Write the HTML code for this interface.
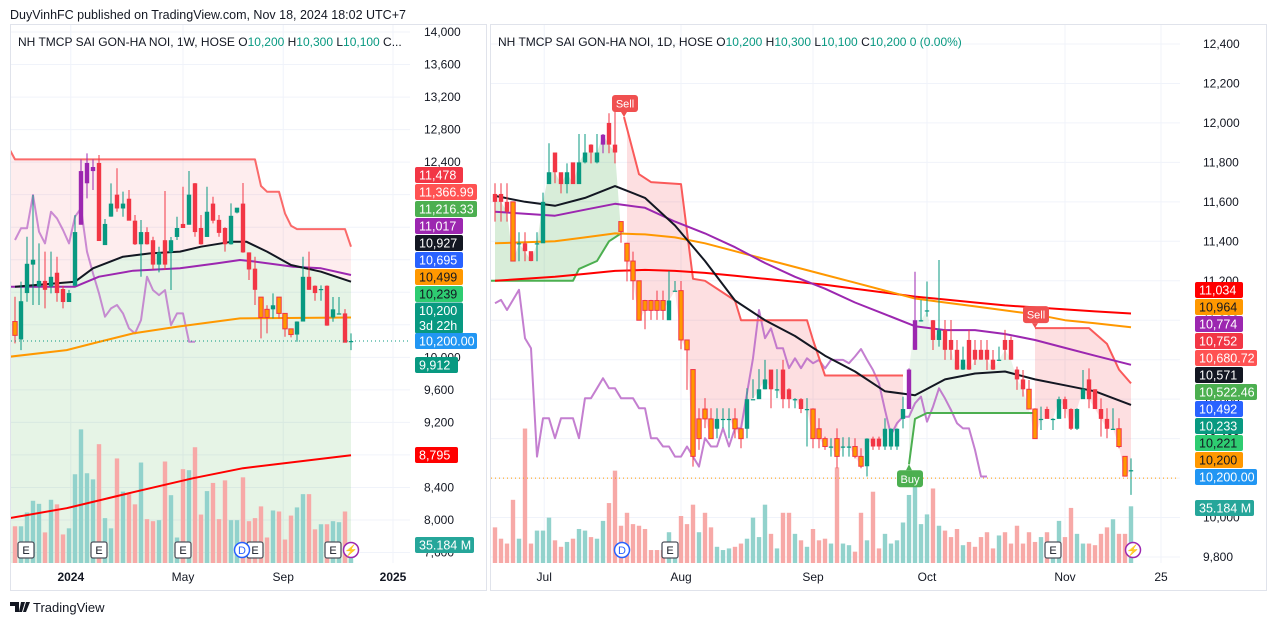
<!DOCTYPE html>
<html><head><meta charset="utf-8">
<style>
html,body{margin:0;padding:0;background:#fff;}
body{width:1276px;height:626px;overflow:hidden;font-family:"Liberation Sans",sans-serif;}
svg text{font-family:"Liberation Sans",sans-serif;}
</style></head>
<body>
<svg id="root" xmlns="http://www.w3.org/2000/svg" width="1276" height="626" viewBox="0 0 1276 626">
<defs>
<clipPath id="clipL"><rect x="11" y="25" width="398" height="539"/></clipPath>
<clipPath id="clipR"><rect x="491" y="25" width="688" height="539"/></clipPath>
</defs>
<text x="10" y="19" font-size="12.5" fill="#131722">DuyVinhFC published on TradingView.com, Nov 18, 2024 18:02 UTC+7</text>
<rect x="10.5" y="24.5" width="476" height="566" fill="#fff" stroke="#e0e3eb"/>
<rect x="490.5" y="24.5" width="776" height="566" fill="#fff" stroke="#e0e3eb"/>
<g id="gridL"></g>
<g id="gridR"></g>
<g id="plotL" clip-path="url(#clipL)"></g>
<g id="plotR" clip-path="url(#clipR)"></g>
<g id="axisL"></g>
<g id="axisR"></g>
<g id="labels"></g>
<text x="18" y="46" font-size="12" fill="#131722">NH TMCP SAI GON-HA NOI, 1W, HOSE  O<tspan fill="#089981">10,200</tspan>  H<tspan fill="#089981">10,300</tspan>  L<tspan fill="#089981">10,100</tspan>  C...</text>
<text x="498" y="46" font-size="12" fill="#131722">NH TMCP SAI GON-HA NOI, 1D, HOSE  O<tspan fill="#089981">10,200</tspan>  H<tspan fill="#089981">10,300</tspan>  L<tspan fill="#089981">10,100</tspan>  C<tspan fill="#089981">10,200</tspan>  <tspan fill="#089981">0 (0.00%)</tspan></text>
<g>
<path d="M10 602h9v10h-4v-6h-5z M21 602h4l-3 10h-3z M26 602h4l-4 10h-3z" fill="#131722"/>
<text x="33" y="612" font-size="13" fill="#131722">TradingView</text>
</g>
</svg>
<script>
// ---------------- LEFT (weekly) DATA ----------------
const lOpen=[10440,10220,10790,11140,10870,10940,10870,11040,10840,10680,10880,11630,12140,12290,12390,11380,11730,12000,11830,11950,11680,11390,11540,11440,11140,11440,11290,11480,11640,11630,12140,11590,11480,11890,11690,11590,11390,11780,11890,11290,11090,10740,10590,10590,10740,10540,10350,10280,10440,10990,10880,10840,10880,10490,10540,10540,10200];
const lClose=[10270,10690,11150,11200,10940,10830,10990,10790,10680,10790,11540,12290,12390,12340,11430,11640,11890,11830,11890,11680,11390,11540,11390,11140,11290,11140,11440,11590,11590,12000,11540,11390,11790,11680,11530,11390,11740,11840,11290,11080,10830,10490,10490,10640,10540,10350,10280,10440,10990,10830,10790,10840,10390,10590,10540,10180,10200];
const lHigh=[10745,10930,11483,11996,11401,11299,11299,11237,10880,10830,11750,12434,12508,12434,12488,11700,12139,12324,12037,12057,11750,11688,11600,11483,11360,12045,11480,11729,12098,12291,12143,11750,12098,11975,11750,11600,11893,11836,12143,11290,11237,10741,10640,10786,10741,10540,10347,10442,11237,11299,10884,10884,10884,10741,10741,10593,10294];
const lLow=[10171,10089,10684,10643,10643,10602,10786,10684,10602,10684,10876,11631,11955,12057,11434,11385,11729,11790,11729,11684,11381,10991,11385,11081,11044,11073,10827,11442,11590,11631,11483,11385,11483,11647,11483,11299,11385,11770,11286,10950,10643,10233,10294,10479,10479,10253,10245,10192,10442,10831,10696,10696,10388,10438,10540,10183,10089];
const lType=["o","g","g","g","g","r","g","r","r","g","g","p","p","p","r","g","g","r","g","r","r","g","r","r","g","r","g","g","r","g","r","r","g","r","r","r","g","g","r","r","r","o","o","g","o","o","o","g","g","r","r","g","r","g","g","r","g"];
const lVolume=[72,72,99,122,116,60,124,115,56,68,174,262,176,164,233,88,68,205,140,135,115,197,86,82,84,199,133,50,184,182,227,95,141,157,86,162,84,84,168,82,88,111,50,103,101,46,93,109,135,135,66,76,76,82,80,101,35];
const lBlackIdx=[0,10,13,18,22.5,27.5,31,36,38.6,42,46,51,56];
const lBlackVal=[10868,10930,11094,11237,11278,11300,11360,11420,11420,11300,11135,11053,10930];
const lPurpleIdx=[-1,10,14,19.7,27.5,33.6,37.5,39.7,46.4,51,56];
const lPurpleVal=[10868,10868,10991,11065,11094,11155,11196,11180,11114,11094,11012];
const lOrangeIdx=[-1,8.6,13,19.7,27,37.5,56];
const lOrangeVal=[10007,10089,10171,10294,10376,10479,10490];
const lRedIdx=[-1,8.6,19.7,29.7,38,56];
const lRedVal=[8022,8145,8342,8514,8637,8795];
const lStopIdx=[-1,0,40,41,42,44,45,46,47,55,56];
const lStopVal=[12570,12434,12434,12106,12037,12037,11770,11618,11577,11577,11360];
const lOsc=[11442,11586,11586,11996,11545,11401,11790,11708,11565,11401,11729,11832,11299,11032,10786,10499,10602,10643,10540,10356,10294,10458,10991,10827,10765,10827,10397,10540,10540,10192,10192];
const lTicks=[14000,13600,13200,12800,12400,12000,11600,11200,10800,10400,10000,9600,9200,8800,8400,8000,7600];
// ---------------- RIGHT (daily) DATA ----------------
const rOpen=[11640,11640,11600,11600,11390,11390,11350,11390,11390,11690,11850,11750,11690,11800,11690,11800,11890,11800,11890,12000,11890,11500,11390,11300,11200,11100,11100,11100,11100,11000,11150,11150,10900,10750,10400,10550,10500,10450,10500,10500,10500,10450,10450,10600,10600,10650,10750,10650,10750,10650,10600,10600,10550,10550,10450,10400,10360,10400,10360,10360,10360,10310,10260,10400,10400,10360,10360,10360,10500,10550,10850,11000,11050,11000,10900,10950,10900,10850,10750,10900,10850,10850,10850,10800,10800,10900,10900,10750,10700,10650,10550,10500,10550,10500,10500,10600,10550,10450,10600,10700,10650,10550,10500,10450,10450,10310,10240];
const rClose=[11600,11600,11550,11300,11390,11350,11300,11390,11600,11750,11750,11690,11750,11690,11800,11850,11850,11850,11940,11890,11850,11450,11300,11200,11000,11050,11050,11050,11050,11100,11150,10900,10850,10310,10500,10500,10400,10500,10500,10500,10450,10400,10600,10600,10650,10700,10650,10650,10600,10600,10600,10550,10550,10400,10400,10360,10360,10310,10360,10360,10310,10260,10400,10360,10360,10450,10450,10450,10550,10750,11000,11000,11050,10900,10950,10850,10850,10750,10800,10750,10800,10800,10800,10750,10800,10850,10800,10700,10650,10550,10400,10500,10500,10500,10600,10550,10450,10550,10650,10600,10550,10500,10450,10450,10360,10210,10240];
const rHigh=[11694,11694,11694,11600,11446,11446,11348,11446,11647,11897,11846,11745,11795,11795,11944,11944,11892,11944,11944,12049,12099,11496,11393,11348,11199,11103,11103,11150,11150,11250,11199,11199,10900,10752,10554,10605,10554,10554,10554,10554,10554,10453,10655,10701,10752,10799,10701,10752,10799,10655,10605,10605,10605,10554,10503,10410,10402,10452,10407,10407,10402,10351,10402,10410,10410,10503,10452,10452,10613,10756,11246,11103,11196,11001,11305,11001,11001,10900,10866,10951,10900,10900,10900,10849,10866,10951,10917,10765,10748,10697,10554,10562,10562,10503,10613,10613,10554,10554,10748,10756,10650,10604,10554,10554,10503,10306,10300];
const rLow=[11500,11500,11500,11299,11299,11299,11299,11299,11393,11694,11694,11643,11643,11694,11694,11795,11795,11795,11846,11846,11795,11393,11197,11103,11002,10954,11002,11002,11002,11002,11150,10853,10647,10258,10343,10453,10402,10402,10453,10402,10402,10351,10402,10605,10605,10650,10554,10605,10554,10554,10554,10529,10360,10351,10351,10343,10309,10250,10309,10309,10300,10250,10208,10343,10343,10343,10343,10343,10452,10554,10849,10993,11018,10849,10866,10799,10799,10748,10748,10748,10773,10799,10748,10748,10799,10799,10799,10647,10613,10554,10402,10444,10503,10444,10503,10503,10444,10444,10604,10554,10554,10410,10402,10444,10351,10208,10115];
const rType=["r","r","r","o","g","r","r","g","g","g","r","r","g","r","g","g","r","g","p","r","r","o","o","o","o","o","o","o","o","g","g","o","o","o","o","o","o","g","g","g","o","o","g","g","g","g","r","g","r","r","g","r","g","o","o","o","g","o","g","g","o","o","g","r","r","g","g","g","g","p","p","g","g","r","g","r","r","r","g","r","r","r","r","r","g","r","r","r","r","o","o","g","r","g","g","r","r","g","g","r","r","r","r","g","o","o","g"];
const rVolume=[22,15,12,39,15,83,12,20,20,28,14,10,13,15,21,20,16,15,26,37,57,23,31,24,23,21,8,8,8,19,5,29,24,36,19,31,22,10,8,9,10,12,15,28,16,36,18,9,31,31,18,14,10,21,14,15,12,59,12,11,7,31,14,44,9,18,12,14,25,42,49,24,30,46,23,20,16,21,11,13,10,16,19,9,17,19,12,23,12,19,13,16,19,7,26,16,34,18,12,12,11,18,22,27,18,18,35];
const rMaIdx=[0,5,10,15,20,25,30,35,40,45,50,55,60,65,70,75,80,85,90,95,100,106];
const rBlack=[11630,11600,11580,11620,11680,11620,11480,11300,11100,11000,10920,10820,10740,10640,10620,10700,10730,10740,10700,10670,10640,10571];
const rPurple=[11550,11540,11530,11560,11590,11570,11500,11440,11370,11290,11220,11160,11090,11030,10970,10950,10950,10930,10900,10860,10820,10774];
const rOrange=[11390,11395,11400,11420,11440,11435,11420,11390,11350,11310,11270,11230,11190,11150,11110,11090,11070,11050,11030,11000,10985,10964];
const rRed=[11200,11210,11220,11235,11250,11255,11250,11240,11225,11210,11195,11180,11160,11140,11120,11105,11090,11075,11065,11055,11045,11034];
const rRedStop1Idx=[21.5,24,26,31,33,35,40,41,52,53,55,68];
const rRedStop1Val=[12030,11740,11700,11690,11210,11200,11100,11000,11000,10900,10720,10720];
const rGreenStop1Idx=[-1,13,14,17,19,21,21.5];
const rGreenStop1Val=[11200,11200,11260,11300,11400,11440,11440];
const rGreenStop2Idx=[69,70,72,90];
const rGreenStop2Val=[10270,10500,10530,10530];
const rRedStop2Idx=[90,99,102,104,106];
const rRedStop2Val=[10960,10960,10880,10750,10680];
const rOsc=[11086,11103,11052,11103,11154,10909,10858,10309,10503,10503,10402,10503,10503,10503,10402,10605,10605,10655,10706,10655,10655,10605,10605,10605,10554,10554,10402,10402,10360,10360,10309,10309,10360,10309,10258,10402,10360,10360,10453,10360,10453,10453,10630,10807,11052,10909,10959,10858,10858,10757,10807,10757,10807,10782,10799,10756,10799,10799,10799,10782,10816,10854,10799,10748,10680,10545,10419,10478,10511,10511,10579,10613,10486,10562,10655,10604,10545,10478,10452,10452,10343,10208,10208];
const rTicks=[12400,12200,12000,11800,11600,11400,11200,11000,10800,10600,10400,10200,10000,9800];

// ---------------- SCALES ----------------
const xL=j=>15+6*j, yL=v=>32+(14000-v)*0.08133;
const xR=i=>495+6*i, yR=v=>44+(12400-v)*0.19731;
const vL=m=>563-m*0.51, vR=m=>563-m*1.62;
const NS="http://www.w3.org/2000/svg";
function mk(tag,attrs,parent){const e=document.createElementNS(NS,tag);for(const k in attrs)e.setAttribute(k,attrs[k]);parent.appendChild(e);return e;}
function interp(idx,val,t){if(t<=idx[0])return val[0];for(let k=1;k<idx.length;k++){if(t<=idx[k]){const f=(t-idx[k-1])/(idx[k]-idx[k-1]);return val[k-1]+f*(val[k]-val[k-1]);}}return val[val.length-1];}
function pathKnots(idx,val,xf,yf){return idx.map((t,k)=>(k?"L":"M")+xf(t).toFixed(1)+" "+yf(val[k]).toFixed(1)).join(" ");}
function pathSeries(arr,xf,yf,off){return arr.map((v,k)=>(k?"L":"M")+xf(k+(off||0)).toFixed(1)+" "+yf(v).toFixed(1)).join(" ");}
const COL={g:"#089981",r:"#f23645",o:"#ff9800",p:"#9c27b0"};

// grids & axes
const gL=document.getElementById("gridL"), gR=document.getElementById("gridR");
const aL=document.getElementById("axisL"), aR=document.getElementById("axisR");
lTicks.forEach(v=>{const y=yL(v);if(y<26||y>563)return;
 const ln=mk("line",{x1:11,x2:410,y1:y,y2:y,stroke:"#f0f3fa"},gL);
 
 
 const t=mk("text",{x:424,y:y+4,"font-size":12,fill:"#131722"},aL);t.textContent=v.toLocaleString("en-US");
 
 });
rTicks.forEach(v=>{const y=yR(v);
 const ln=mk("line",{x1:491,x2:1180,y1:y,y2:y,stroke:"#f0f3fa"},gR);
 
 
 const t=mk("text",{x:1203,y:y+4,"font-size":12,fill:"#131722"},aR);t.textContent=v.toLocaleString("en-US");
 
 });
const lDates=[["2024",9.3,true],["May",28,false],["Sep",44.7,false],["2025",63,true]];
const rDates=[["Jul",8.2,false],["Aug",31,false],["Sep",53,false],["Oct",72,false],["Nov",95,false],["25",111,false]];
lDates.forEach(d=>{const x=xL(d[1]);
 const ln=mk("line",{x1:x,x2:x,y1:25,y2:563,stroke:"#f0f3fa"},gL);
 
 
 const t=mk("text",{x:x,y:581,"font-size":12,fill:"#131722","text-anchor":"middle","font-weight":d[2]?"bold":"normal"},aL);t.textContent=d[0];
 
 });
rDates.forEach(d=>{const x=xR(d[1]);
 const ln=mk("line",{x1:x,x2:x,y1:25,y2:563,stroke:"#f0f3fa"},gR);
 
 
 const t=mk("text",{x:x,y:581,"font-size":12,fill:"#131722","text-anchor":"middle"},aR);t.textContent=d[0];
 
 });

function drawVolume(vol,O,C,xf,vf,g,w){vol.forEach((m,k)=>{if(k>=O.length)return;const up=C[k]>=O[k];
 const r=mk("rect",{x:xf(k)-w/2,y:vf(m),width:w,height:563-vf(m),fill:up?"#92d2cc":"#f7a9a7"},g);
 
 });}
function drawCandles(O,H,L,C,T,xf,yf,g,w){O.forEach((o,k)=>{const x=xf(k),c=C[k],t=T[k];
 const wc=t==="o"?"#f23645":COL[t];
 const wk=mk("line",{x1:x,x2:x,y1:yf(H[k]),y2:yf(L[k]),stroke:wc,"stroke-width":1},g);
 
 
 const top=yf(Math.max(o,c)),h=Math.max(1.2,Math.abs(yf(o)-yf(c)));
 const b=mk("rect",{x:x-w/2,y:top,width:w,height:h,fill:COL[t],stroke:t==="o"?"#f23645":"none","stroke-width":t==="o"?1:0},g);
 
 });}
function line(d,col,w,g,name,op){const p=mk("path",{d:d,fill:"none",stroke:col,"stroke-width":w,"stroke-linejoin":"round",opacity:op||1},g);
 
 return p;}
function fillBetween(idx,val,from,to,series,xf,yf,col,g,name){let d="";const pts=[];
 for(let t=from;t<=to+1e-6;t+=0.5)pts.push([xf(t),yf(interp(idx,val,t))]);
 const back=[];for(let k=Math.floor(to);k>=Math.ceil(from);k--)back.push([xf(k),yf(series(k))]);
 d="M"+pts.concat(back).map(p=>p[0].toFixed(1)+" "+p[1].toFixed(1)).join(" L")+"Z";
 const p=mk("path",{d:d,fill:col,stroke:"none"},g);
 
 }

// ---------------- LEFT PLOT ----------------
const pL=document.getElementById("plotL");
fillBetween(lStopIdx,lStopVal,-1,56,k=>interp(lBlackIdx,lBlackVal,k),xL,yL,"rgba(242,54,69,0.09)",pL,"left-red-fill");
(function(){const pts=[];for(let t=-1;t<=56;t+=0.5)pts.push(xL(t).toFixed(1)+" "+yL(interp(lBlackIdx,lBlackVal,t)).toFixed(1));
 const p=mk("path",{d:"M"+pts.join(" L")+" L"+xL(56)+" 563 L"+xL(-1)+" 563Z",fill:"rgba(76,175,80,0.14)"},pL);
 
 })();
drawVolume(lVolume,lOpen,lClose,xL,vL,pL,4.4);
line(pathKnots(lStopIdx,lStopVal,xL,yL),"#fa5a5a",2,pL,"left-red-stop-line",0.9);
line(pathSeries(lOsc,xL,yL),"#ba68c8",2,pL,"left-oscillator-line",0.75);
line(pathKnots(lRedIdx,lRedVal,xL,yL),"#ff0000",2,pL,"left-ma-red");
line(pathKnots(lOrangeIdx,lOrangeVal,xL,yL),"#ff9800",2,pL,"left-ma-orange");
line(pathKnots(lPurpleIdx,lPurpleVal,xL,yL),"#9c27b0",2,pL,"left-ma-purple");
line(pathKnots(lBlackIdx,lBlackVal,xL,yL),"#131722",2,pL,"left-ma-black");
drawCandles(lOpen,lHigh,lLow,lClose,lType,xL,yL,pL,4.4);
(function(){const l=mk("line",{x1:11,x2:409,y1:yL(10200),y2:yL(10200),stroke:"#089981","stroke-dasharray":"1 3"},pL);
 
 })();

// ---------------- RIGHT PLOT ----------------
const pR=document.getElementById("plotR");
const rc=k=>rClose[k];
fillBetween(rGreenStop1Idx,rGreenStop1Val,0,21,rc,xR,yR,"rgba(76,175,80,0.22)",pR,"right-green-fill-1");
fillBetween(rRedStop1Idx,rRedStop1Val,22,68,rc,xR,yR,"rgba(242,54,69,0.16)",pR,"right-red-fill-1");
fillBetween(rGreenStop2Idx,rGreenStop2Val,69,90,rc,xR,yR,"rgba(76,175,80,0.12)",pR,"right-green-fill-2");
fillBetween(rRedStop2Idx,rRedStop2Val,90,106,rc,xR,yR,"rgba(242,54,69,0.16)",pR,"right-red-fill-2");
drawVolume(rVolume,rOpen,rClose,xR,vR,pR,4.4);
line(pathSeries(rOsc,xR,yR),"#ba68c8",2,pR,"right-oscillator-line",0.85);
line(pathKnots(rGreenStop1Idx,rGreenStop1Val,xR,yR),"#4caf50",2,pR,"right-green-stop-1");
line(pathKnots(rGreenStop2Idx,rGreenStop2Val,xR,yR),"#4caf50",2,pR,"right-green-stop-2");
line(pathKnots(rRedStop1Idx,rRedStop1Val,xR,yR),"#fa5a5a",2,pR,"right-red-stop-1");
line(pathKnots(rRedStop2Idx,rRedStop2Val,xR,yR),"#fa5a5a",2,pR,"right-red-stop-2");
line(pathKnots(rMaIdx,rRed,xR,yR),"#ff0000",2,pR,"right-ma-red");
line(pathKnots(rMaIdx,rOrange,xR,yR),"#ff9800",2,pR,"right-ma-orange");
line(pathKnots(rMaIdx,rPurple,xR,yR),"#9c27b0",2,pR,"right-ma-purple");
line(pathKnots(rMaIdx,rBlack,xR,yR),"#131722",2,pR,"right-ma-black");
drawCandles(rOpen,rHigh,rLow,rClose,rType,xR,yR,pR,4.4);
(function(){const l=mk("line",{x1:491,x2:1180,y1:yR(10200),y2:yR(10200),stroke:"#ff9800","stroke-dasharray":"1 3"},pR);
 
 })();
// signal markers
function signal(txt,x,y,col,name,below){const g=mk("g",{},pR);
 
 
 const by=below?y+6:y-22;
 mk("rect",{x:x-12,y:by,width:26,height:17,rx:3,fill:col},g);
 mk("path",{d:below?`M${x-3} ${by} L${x} ${y} L${x+3} ${by}Z`:`M${x-3} ${by+17} L${x} ${y} L${x+3} ${by+17}Z`,fill:col},g);
 const t=mk("text",{x:x+1,y:by+12.5,"font-size":11,fill:"#fff","text-anchor":"middle"},g);t.textContent=txt;}
signal("Sell",xR(21.5),yR(12030),"#f05050","sell-marker-1",false);
signal("Sell",xR(90),yR(10960),"#f05050","sell-marker-2",false);
signal("Buy",xR(69),yR(10270),"#4caf50","buy-marker",true);

// event icons
function icon(x,y,t,col,name){const g=mk("g",{},document.getElementById("root"));
 
 
 if(t==="D"||t==="⚡"){mk("circle",{cx:x,cy:y,r:7.5,fill:"#fff",stroke:col,"stroke-width":1.5},g);}
 else mk("rect",{x:x-8,y:y-8,width:16,height:16,rx:2,fill:"#fff",stroke:"#50535e","stroke-width":1.3},g);
 const tx=mk("text",{x:x,y:y+4,"font-size":11,fill:t==="E"?"#131722":col,"text-anchor":"middle"},g);tx.textContent=t;}
[[26,"E"],[99,"E"],[183,"E"],[255,"E"],[333,"E"],[670,"E"],[1053,"E"]].forEach(a=>icon(a[0],550,a[1],"#50535e","earnings-icon"));
icon(242,550,"D","#2962ff","dividend-icon");icon(622,550,"D","#2962ff","dividend-icon");
icon(351,550,"⚡","#9c27b0","split-icon");icon(1133,550,"⚡","#9c27b0","split-icon");

// price labels
const lbls=document.getElementById("labels");
function lab(x,y,txt,bg,fg,w,h){const g=mk("g",{},lbls);
 
 
 mk("rect",{x:x,y:y-(h||16)/2,width:w,height:h||16,rx:2,fill:bg},g);
 const lines=txt.split("|");lines.forEach((s,k)=>{const t=mk("text",{x:x+4,y:y+4.5-(lines.length-1)*7.5+k*15,"font-size":12.5,fill:fg},g);t.textContent=s;});}
const W="#fff",B="#131722";
lab(415,175,"11,478","#f23645",W,48);lab(415,192,"11,366.99","#ff5252",W,62);lab(415,209,"11,216.33","#4caf50",W,62);
lab(415,226,"11,017","#9c27b0",W,48);lab(415,243,"10,927","#131722",W,48);lab(415,260,"10,695","#2962ff",W,48);
lab(415,277,"10,499","#ff9800",B,48);lab(415,294,"10,239","#2ecc71",B,48);lab(415,318,"10,200|3d 22h","#089981",W,48,31);
lab(415,341,"10,200.00","#2196f3",W,62);lab(415,365,"9,912","#089981",W,43);lab(415,455,"8,795","#ff0000",W,43);
lab(415,545,"35.184 M","#26a69a",W,59);
lab(1195,290,"11,034","#ff0000",W,48);lab(1195,307,"10,964","#ff9800",B,48);lab(1195,324,"10,774","#9c27b0",W,48);
lab(1195,341,"10,752","#f23645",W,48);lab(1195,358,"10,680.72","#ff5252",W,62);lab(1195,375,"10,571","#131722",W,48);
lab(1195,392,"10,522.46","#4caf50",W,62);lab(1195,409,"10,492","#2962ff",W,48);lab(1195,426,"10,233","#089981",W,48);
lab(1195,443,"10,221","#2ecc71",B,48);lab(1195,460,"10,200","#ff9800",B,48);lab(1195,477,"10,200.00","#2196f3",W,62);
lab(1195,508,"35.184 M","#26a69a",W,59);
</script>
</body></html>
